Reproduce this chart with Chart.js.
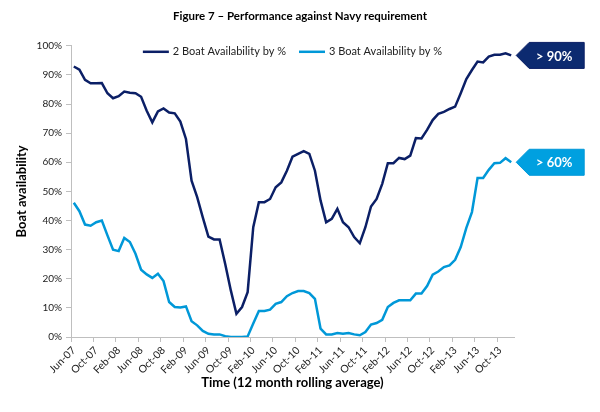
<!DOCTYPE html>
<html>
<head>
<meta charset="utf-8">
<script src="https://cdn.jsdelivr.net/npm/chart.js@4.4.0/dist/chart.umd.min.js"></script>
<style>
    html, body { margin: 0; padding: 0; background: #fff; }
    #wrap { width: 600px; height: 412px; }
</style>
</head>
<body>
<div id="wrap"><canvas id="myChart"></canvas></div>
<script>
const months = [
    'Jun-07', 'Jul-07', 'Aug-07', 'Sep-07', 'Oct-07', 'Nov-07', 'Dec-07',
    'Jan-08', 'Feb-08', 'Mar-08', 'Apr-08', 'May-08', 'Jun-08', 'Jul-08', 'Aug-08', 'Sep-08', 'Oct-08', 'Nov-08', 'Dec-08',
    'Jan-09', 'Feb-09', 'Mar-09', 'Apr-09', 'May-09', 'Jun-09', 'Jul-09', 'Aug-09', 'Sep-09', 'Oct-09', 'Nov-09', 'Dec-09',
    'Jan-10', 'Feb-10', 'Mar-10', 'Apr-10', 'May-10', 'Jun-10', 'Jul-10', 'Aug-10', 'Sep-10', 'Oct-10', 'Nov-10', 'Dec-10',
    'Jan-11', 'Feb-11', 'Mar-11', 'Apr-11', 'May-11', 'Jun-11', 'Jul-11', 'Aug-11', 'Sep-11', 'Oct-11', 'Nov-11', 'Dec-11',
    'Jan-12', 'Feb-12', 'Mar-12', 'Apr-12', 'May-12', 'Jun-12', 'Jul-12', 'Aug-12', 'Sep-12', 'Oct-12', 'Nov-12', 'Dec-12',
    'Jan-13', 'Feb-13', 'Mar-13', 'Apr-13', 'May-13', 'Jun-13', 'Jul-13', 'Aug-13', 'Sep-13', 'Oct-13', 'Nov-13', 'Dec-13'
];

// 12 month rolling average, %
const twoBoat = [
    92.9, 91.8, 88.3, 87.1, 87.1, 87.2, 83.7, 82.0, 82.7, 84.3,
    83.9, 83.7, 82.5, 77.7, 73.7, 77.5, 78.5, 77.1, 76.8, 74.0,
    68.0, 53.7, 48.0, 41.1, 34.5, 33.5, 33.5, 25.1, 16.0, 8.0,
    10.3, 15.4, 37.7, 46.3, 46.3, 47.4, 51.4, 53.1, 57.1, 61.9,
    62.9, 63.8, 62.9, 57.1, 46.9, 39.4, 40.6, 44.0, 39.4, 37.7,
    34.3, 32.2, 37.7, 44.8, 47.4, 52.6, 59.7, 59.7, 61.5, 61.1,
    62.3, 68.3, 68.2, 71.1, 74.5, 76.6, 77.3, 78.3, 79.1, 83.7,
    88.6, 91.7, 94.6, 94.3, 96.3, 96.9, 96.9, 97.4, 96.7
];
const threeBoat = [
    46.1, 43.2, 38.6, 38.2, 39.4, 40.0, 34.9, 30.0, 29.5, 34.0,
    32.6, 28.6, 23.1, 21.5, 20.3, 21.7, 19.2, 12.0, 10.3, 10.1,
    10.5, 5.4, 4.0, 2.1, 1.1, 0.9, 0.9, 0.3, 0.0, 0.0,
    0.0, 0.2, 4.6, 8.9, 8.9, 9.4, 11.4, 12.0, 14.0, 15.1,
    15.8, 15.8, 15.1, 13.1, 2.9, 0.9, 0.9, 1.4, 1.1, 1.4,
    0.9, 0.6, 1.7, 4.3, 4.8, 5.9, 10.3, 11.7, 12.6, 12.6,
    12.6, 14.9, 14.9, 17.5, 21.4, 22.5, 24.0, 24.6, 26.5, 30.9,
    37.5, 42.9, 54.6, 54.6, 57.4, 59.7, 59.8, 61.4, 60.0
];
const seriesNames = ['2 Boat Availability by %', '3 Boat Availability by %'];
const targets = ['> 90%', '> 60%'];

const lineColors = ['#0b1f66', '#0098d8'];
const boxColors = ['#0c2a70', '#00a0e0'];

const FONT = 'Lato, "Open Sans", sans-serif';

// legend inside the plot + target callouts at the end of each line
const overlayPlugin = {
    id: 'overlay',
    afterLayout(chart) {
        // centre the title on the whole canvas, not just the padded area
        if (chart.titleBlock) {
            chart.titleBlock.left = 0;
            chart.titleBlock.right = chart.width;
        }
    },
    afterDatasetsDraw(chart) {
        const { ctx, chartArea } = chart;
        ctx.save();

        ctx.font = '11px ' + FONT;
        ctx.textBaseline = 'middle';
        const items = chart.data.datasets.map(ds => ({
            text: ds.label,
            color: ds.borderColor,
            w: 30 + ctx.measureText(ds.label).width
        }));
        const gap = 13;
        const total = items.reduce((s, it) => s + it.w, 0) + gap * (items.length - 1);
        let x = (chartArea.left + chartArea.right) / 2 - total / 2;
        const y = chartArea.top + 6;
        items.forEach(it => {
            ctx.strokeStyle = it.color;
            ctx.lineWidth = 2.5;
            ctx.beginPath();
            ctx.moveTo(x, y);
            ctx.lineTo(x + 26, y);
            ctx.stroke();
            ctx.fillStyle = '#222';
            ctx.textAlign = 'left';
            ctx.fillText(it.text, x + 30, y);
            x += it.w + gap;
        });

        chart.data.datasets.forEach((ds, i) => {
            const pts = chart.getDatasetMeta(i).data;
            const last = pts[pts.length - 1];
            const tx = last.x + 5, ty = last.y;
            ctx.beginPath();
            ctx.moveTo(tx, ty);
            ctx.lineTo(tx + 13, ty - 13);
            ctx.lineTo(tx + 68, ty - 13);
            ctx.lineTo(tx + 68, ty + 13);
            ctx.lineTo(tx + 13, ty + 13);
            ctx.closePath();
            ctx.fillStyle = boxColors[i];
            ctx.fill();
            ctx.strokeStyle = lineColors[i];
            ctx.lineWidth = 1;
            ctx.stroke();
            ctx.fillStyle = '#fff';
            ctx.font = 'bold 13px ' + FONT;
            ctx.textAlign = 'center';
            ctx.fillText(targets[i], tx + 38, ty + 1);
        });
        ctx.restore();
    }
};

new Chart(document.getElementById('myChart'), {
    type: 'line',
    data: {
        labels: months,
        datasets: [{
            label: seriesNames[0],
            data: twoBoat,
            borderColor: lineColors[0],
            borderWidth: 2.5,
            pointRadius: 0,
            tension: 0
        }, {
            label: seriesNames[1],
            data: threeBoat,
            borderColor: lineColors[1],
            borderWidth: 2.5,
            pointRadius: 0,
            tension: 0
        }]
    },
    options: {
        responsive: true,
        maintainAspectRatio: false,
        animation: false,
        layout: { padding: { left: 0, right: 86, top: 0, bottom: 0 } },
        plugins: {
            legend: { display: false },
            tooltip: { enabled: false },
            title: {
                display: true,
                text: 'Figure 7 \u2013 Performance against Navy requirement',
                color: '#000',
                font: { family: FONT, size: 11.5, weight: 'bold' },
                padding: { top: 9, bottom: 23 }
            }
        },
        scales: {
            x: {
                offset: true,
                grid: {
                    offset: true,
                    drawOnChartArea: false,
                    tickLength: 5,
                    color: ctx => (ctx.index % 4 === 0 ? '#bfbfbf' : 'rgba(0,0,0,0)')
                },
                border: { color: '#bfbfbf' },
                ticks: {
                    autoSkip: false,
                    minRotation: 45,
                    maxRotation: 45,
                    padding: 2,
                    color: '#222',
                    font: { family: FONT, size: 10.5 },
                    callback: function (v, i) { return i % 4 === 0 ? this.getLabelForValue(v) : ''; }
                },
                title: {
                    display: true,
                    text: 'Time (12 month rolling average)',
                    color: '#000',
                    font: { family: FONT, size: 13, weight: 'bold' },
                    padding: { top: 4, bottom: 21 }
                },
                afterFit: scale => { scale.height = 75; }
            },
            y: {
                min: 0,
                max: 100,
                grid: { drawOnChartArea: false, tickLength: 5, color: '#bfbfbf' },
                border: { color: '#bfbfbf' },
                ticks: {
                    stepSize: 10,
                    padding: 4,
                    color: '#222',
                    font: { family: FONT, size: 10 },
                    callback: v => v + '%'
                },
                title: {
                    display: true,
                    text: 'Boat availability',
                    color: '#000',
                    font: { family: FONT, size: 13, weight: 'bold' },
                    padding: { top: 14, bottom: 0 }
                },
                afterFit: scale => { scale.width = 71; }
            }
        }
    },
    plugins: [overlayPlugin]
});
</script>
</body>
</html>
